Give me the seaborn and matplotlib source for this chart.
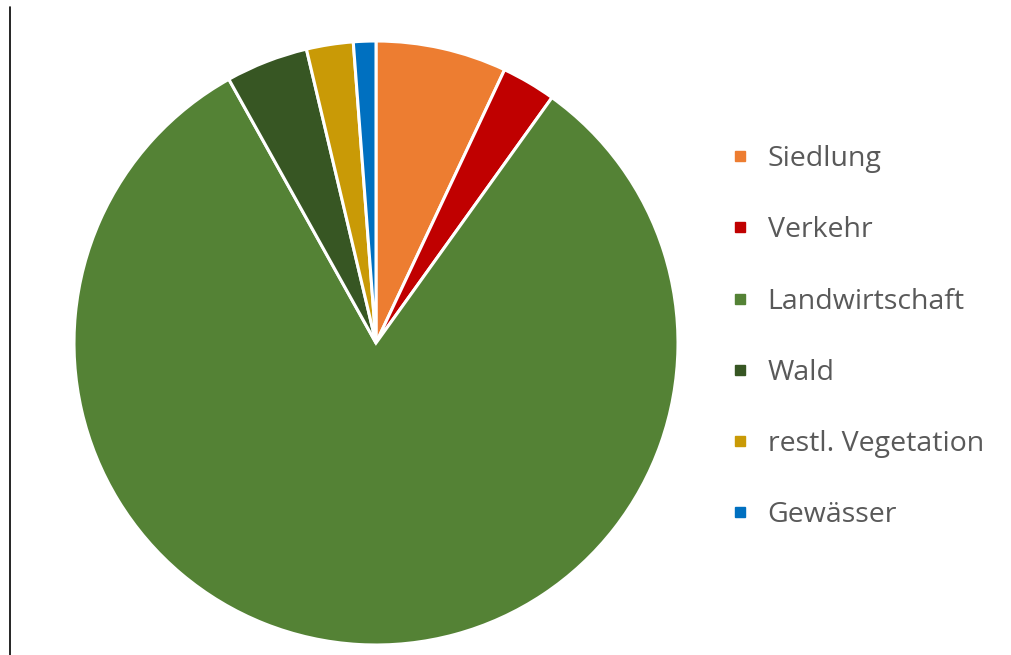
import matplotlib
matplotlib.use("Agg")
import matplotlib.pyplot as plt
from matplotlib.lines import Line2D
import seaborn as sns

categories = ["Siedlung", "Verkehr", "Landwirtschaft", "Wald", "restl. Vegetation", "Gewässer"]
shares = [7.0, 2.9, 82.0, 4.4, 2.5, 1.2]
colors = ["#ED7D31", "#C00000", "#548235", "#375623", "#C99A06", "#0070C0"]

sns.set_theme(style="white")
plt.rcParams['font.family'] = ['Open Sans', 'DejaVu Sans']

fig = plt.figure(figsize=(10.11, 6.55), dpi=100)
fig.patch.set_facecolor("white")
ax = fig.add_axes([74/1011, 10/655, 604/1011, 604/655])
ax.pie(shares, colors=colors, startangle=90, counterclock=False,
       wedgeprops=dict(edgecolor="white", linewidth=2.2), radius=1.0)
ax.set_xlim(-1.0, 1.0)
ax.set_ylim(-1.0, 1.0)
ax.set_aspect("equal")
ax.axis("off")

# left border line
fig.add_artist(Line2D([9.5/1011, 9.5/1011], [0, 648/655], transform=fig.transFigure,
                      color="black", linewidth=1.2))

handles = [Line2D([0], [0], marker="s", linestyle="", markersize=7.5,
                  markerfacecolor=c, markeredgecolor=c) for c in colors]
leg = fig.legend(handles, categories, loc="upper left",
                 bbox_to_anchor=(729/1011, 1 - 145/655), frameon=False,
                 fontsize=20.5, labelspacing=1.52, handlelength=0.78,
                 handletextpad=0.58, borderaxespad=0, borderpad=0)
for t in leg.get_texts():
    t.set_color("#595959")

fig.savefig("out.png", dpi=100, facecolor="white")
